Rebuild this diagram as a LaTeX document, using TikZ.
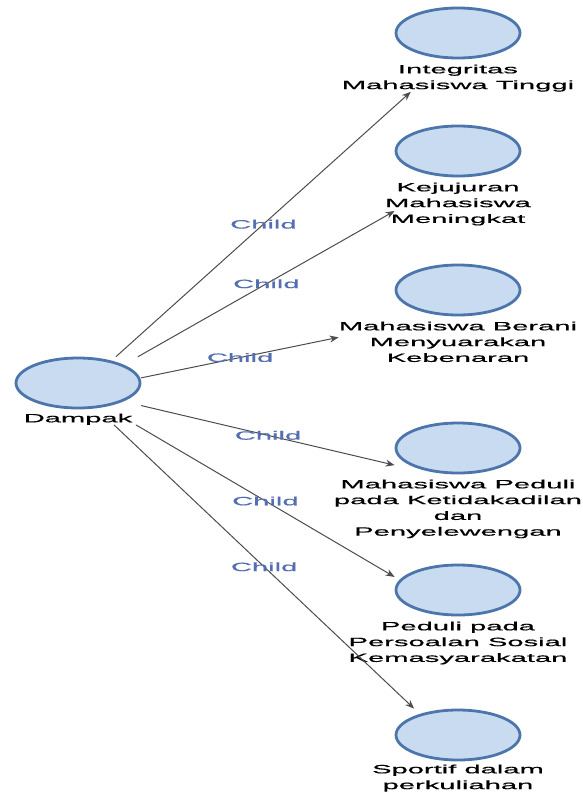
\documentclass[tikz,border=0pt]{standalone}
\usepackage{fontspec}
\usepackage{tikz}
\usetikzlibrary{shapes.geometric,positioning,fit,arrows.meta}
\newfontfamily\widefont[FakeStretch=2.43,FakeBold=0.6]{Liberation Sans}
\definecolor{nodefill}{rgb}{0.79,0.86,0.94}
\definecolor{nodeedge}{rgb}{0.30,0.46,0.67}
\definecolor{edgegray}{rgb}{0.30,0.30,0.30}
\definecolor{childblue}{rgb}{0.33,0.43,0.70}
\tikzset{
  concept/.style={ellipse,draw=nodeedge,fill=nodefill,line width=2.8pt,minimum width=124pt,minimum height=50pt,inner sep=0pt},
  conceptlabel/.style={font=\widefont\fontsize{12}{15.8}\selectfont,align=center,inner sep=0pt},
  group/.style={rectangle,inner sep=0pt,outer sep=0pt},
  childedge/.style={->,draw=edgegray,line width=1pt},
  childlabel/.style={midway,font=\widefont\fontsize{12}{15.8}\selectfont,text=childblue,inner sep=1pt}
}

\begin{document}
\begin{tikzpicture}[line cap=round,line join=round,>={Stealth[length=9pt,width=7pt]},x=1pt,y=-1pt]
            \useasboundingbox (0,0) rectangle (582,792);
            \node[concept] (dampak) at (78,383) {};
            \node[conceptlabel,below=4pt of dampak] (dampakT) {Dampak};
            \node[group,fit=(dampak)(dampakT)] (dampakG) {};
            \node[concept] (integritas) at (458,33) {};
            \node[conceptlabel,below=5pt of integritas] (integritasT) {Integritas\\Mahasiswa Tinggi};
            \node[group,fit=(integritas)(integritasT.south)] (integritasG) {};
            \node[concept] (kejujuran) at (458,151) {};
            \node[conceptlabel,below=5pt of kejujuran] (kejujuranT) {Kejujuran\\Mahasiswa\\Meningkat};
            \node[group,fit=(kejujuran)(kejujuranT.south)] (kejujuranG) {};
            \node[concept] (berani) at (458,290) {};
            \node[conceptlabel,below=5pt of berani] (beraniT) {Mahasiswa Berani\\Menyuarakan\\Kebenaran};
            \node[group,fit=(berani)(beraniT)] (beraniG) {};
            \node[concept] (peduli) at (458,448) {};
            \node[conceptlabel,below=5pt of peduli] (peduliT) {Mahasiswa Peduli\\pada Ketidakadilan\\dan\\Penyelewengan};
            \node[group,fit=(peduli)(peduliT.south)] (peduliG) {};
            \node[concept] (sosial) at (458,590) {};
            \node[conceptlabel,below=5pt of sosial] (sosialT) {Peduli pada\\Persoalan Sosial\\Kemasyarakatan};
            \node[group,fit=(sosial)(sosialT.south)] (sosialG) {};
            \node[concept] (sportif) at (458,735) {};
            \node[conceptlabel,below=3pt of sportif] (sportifT) {Sportif dalam\\perkuliahan};
            \node[group,fit=(sportif)(sportifT.south)] (sportifG) {};
            \draw[childedge] (dampakG) -- node[childlabel]{Child} (integritasG);
            \draw[childedge] (dampakG) -- node[childlabel]{Child} (kejujuranG);
            \draw[childedge] (dampakG) -- node[childlabel]{Child} (beraniG);
            \draw[childedge] (dampakG) -- node[childlabel]{Child} (peduliG);
            \draw[childedge] (dampakG) -- node[childlabel]{Child} (sosialG);
            \draw[childedge] (dampakG) -- node[childlabel]{Child} (sportifG);
\end{tikzpicture}
\end{document}
